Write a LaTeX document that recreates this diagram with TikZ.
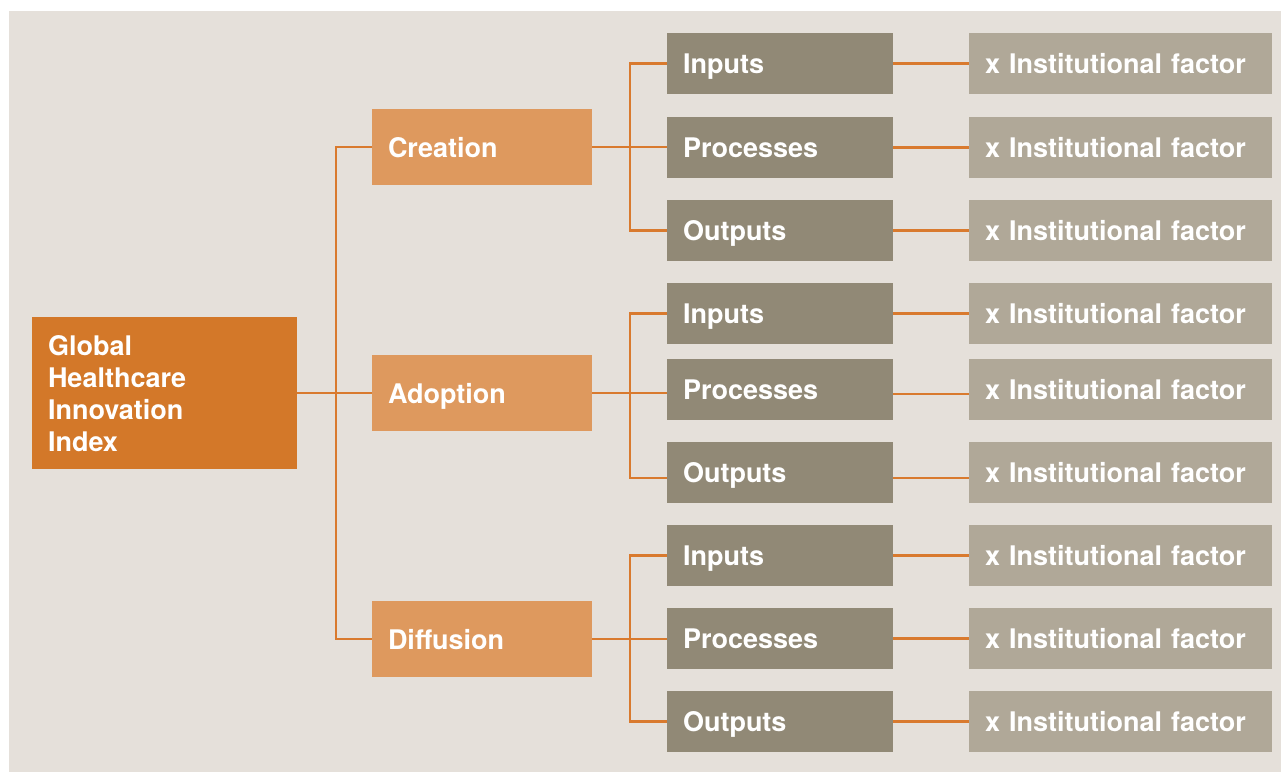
\documentclass[tikz,border=0pt]{standalone}
\usepackage{fontspec}
\setmainfont{TeX Gyre Heros}
\definecolor{paper}{HTML}{E5E0DA}
\definecolor{indexfill}{HTML}{D37829}
\definecolor{pillarfill}{HTML}{DE995E}
\definecolor{stagefill}{HTML}{918976}
\definecolor{factorfill}{HTML}{B0A898}
\definecolor{linkcol}{HTML}{D97A2E}
\tikzset{
  box/.style={fill=#1, draw=none, inner ysep=0pt, inner xsep=16pt, outer sep=0pt,
    text=white, align=left, font=\fontsize{27}{32}\selectfont\bfseries,
    text height=20.5pt, text depth=0pt},
  pillar/.style={box=pillarfill, text width=188pt, minimum height=76pt},
  stage/.style={box=stagefill, text width=194pt, minimum height=61pt},
  factor/.style={box=factorfill, text width=271pt, minimum height=61pt},
  link/.style={draw=linkcol, line width=2.8pt}
}
\begin{document}
\begin{tikzpicture}[x=1pt, y=-1pt]
  % canvas and backdrop
  \useasboundingbox (0,0) rectangle (1281,772);
  \fill[white] (0,0) rectangle (1281,772);
  \fill[paper] (9,11) rectangle (1281,772);

  % root of the tree
  \node[box=indexfill, minimum width=265pt, minimum height=152pt, text width=233pt,
        text height=20.5pt, text depth=96pt] (gi) at (164.5,393)
        {Global\\Healthcare\\Innovation\\Index};

  % three pillars
  \node[pillar] (cre) at (482,147) {Creation};
  \node[pillar] (ado) at (482,393) {Adoption};
  \node[pillar] (dif) at (482,639) {Diffusion};

  % stages per pillar
  \node[stage] (ci) at (780,63.5)  {Inputs};
  \node[stage] (cp) at (780,147.5) {Processes};
  \node[stage] (co) at (780,230.5) {Outputs};
  \node[stage] (ai) at (780,313.5) {Inputs};
  \node[stage] (ap) at (780,389.5) {Processes};
  \node[stage] (ao) at (780,472.5) {Outputs};
  \node[stage] (di) at (780,555.5) {Inputs};
  \node[stage] (dp) at (780,638.5) {Processes};
  \node[stage] (do) at (780,721.5) {Outputs};

  % institutional weighting of each stage
  \foreach \s/\y in {ci/63.5, cp/147.5, co/230.5, ai/313.5, ap/389.5,
                     ao/472.5, di/555.5, dp/638.5, do/721.5}
    \node[factor] (f\s) at (1120.5,\y) {x Institutional factor};

  % junction points of the vertical buses
  \coordinate (jr) at (336,393);
  \coordinate (jc) at (630,147);
  \coordinate (ja) at (630,393);
  \coordinate (jd) at (630,639);

  % root to pillars
  \draw[link] (gi.east) -- (ado.west);
  \draw[link] (cre.west) -| (jr) |- (dif.west);

  % pillars to stages
  \draw[link] (cre.east) -- (cre.east -| cp.west);
  \draw[link] (ci.west) -| (jc) |- (co.west);
  \draw[link] (ado.east) -- (ado.east -| ap.west);
  \draw[link] (ai.west) -| (ja) |- ([yshift=-5.5pt]ao.west);
  \draw[link] (dif.east) -- (dif.east -| dp.west);
  \draw[link] (di.west) -| (jd) |- (do.west);

  % stages to factors
  \foreach \s in {ci,cp,co,ai,di,dp,do}
    \draw[link] (\s.east) -- (f\s.west);
  \draw[link] ([yshift=-4.5pt]ap.east) -- ([yshift=-4.5pt]fap.west);
  \draw[link] ([yshift=-5.5pt]ao.east) -- ([yshift=-5.5pt]fao.west);
\end{tikzpicture}
\end{document}
